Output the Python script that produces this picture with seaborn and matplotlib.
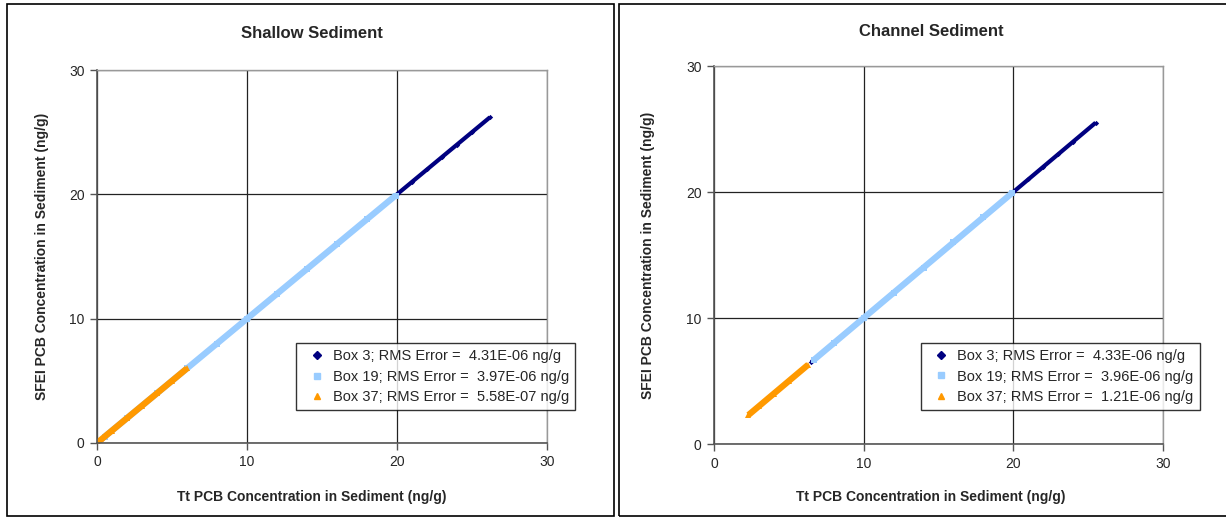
import matplotlib
matplotlib.use("Agg")
import numpy as np
import pandas as pd
import matplotlib.pyplot as plt
import seaborn as sns
from matplotlib.lines import Line2D
from matplotlib.patches import Rectangle

# Values (Tt vs SFEI concentration, ng/g)
shallow_box3_tt = [0.3, 2, 4, 6, 8, 10, 12, 14, 16, 18, 20, 21, 22, 23, 24, 25, 26.2]
shallow_box3_sfei = [0.3, 2, 4, 6, 8, 10, 12, 14, 16, 18, 20, 21, 22, 23, 24, 25, 26.2]
shallow_box19_tt = [0.5, 2, 4, 6, 8, 10, 12, 14, 16, 18, 19.9]
shallow_box19_sfei = [0.5, 2, 4, 6, 8, 10, 12, 14, 16, 18, 19.9]
shallow_box37_tt = [0.05, 1, 2, 3, 4, 5, 6.0]
shallow_box37_sfei = [0.05, 1, 2, 3, 4, 5, 6.0]

channel_box3_tt = [6.5, 8, 10, 12, 14, 16, 18, 20, 21, 22, 23, 24, 25.5]
channel_box3_sfei = [6.5, 8, 10, 12, 14, 16, 18, 20, 21, 22, 23, 24, 25.5]
channel_box19_tt = [6.7, 8, 10, 12, 14, 16, 18, 19.9]
channel_box19_sfei = [6.7, 8, 10, 12, 14, 16, 18, 19.9]
channel_box37_tt = [2.3, 3, 4, 5, 6.3]
channel_box37_sfei = [2.3, 3, 4, 5, 6.3]

shallow_labels = ["Box 3; RMS Error =  4.31E-06 ng/g",
                  "Box 19; RMS Error =  3.97E-06 ng/g",
                  "Box 37; RMS Error =  5.58E-07 ng/g"]
channel_labels = ["Box 3; RMS Error =  4.33E-06 ng/g",
                  "Box 19; RMS Error =  3.96E-06 ng/g",
                  "Box 37; RMS Error =  1.21E-06 ng/g"]

colors = ["#000080", "#99CCFF", "#FF9900"]
markers = ["D", "s", "^"]
widths = [3.0, 4.5, 4.5]

sns.set_style("white")
plt.rcParams['font.family'] = ['Liberation Sans', 'DejaVu Sans']

W, H = 1226, 517
fig = plt.figure(figsize=(W / 100, H / 100), dpi=100)

# panel frames
fig.patches.append(Rectangle((7 / W, 1 / H), 607 / W, 512 / H, transform=fig.transFigure,
                             fill=False, edgecolor="black", linewidth=1.2))
fig.patches.append(Rectangle((619 / W, 1 / H), 620 / W, 512 / H, transform=fig.transFigure,
                             fill=False, edgecolor="black", linewidth=1.2, clip_on=False))

ax1 = fig.add_axes([97 / W, 1 - 443 / H, 450 / W, 373 / H])
ax2 = fig.add_axes([714 / W, 1 - 444 / H, 449 / W, 378 / H])


def draw_panel(ax, series, title, labels, legend_box, cx, title_y, ylab_x):
    for i, (tt, sfei) in enumerate(series):
        df = pd.DataFrame({"tt": tt, "sfei": sfei})
        sns.lineplot(data=df, x="tt", y="sfei", ax=ax, color=colors[i], linewidth=widths[i],
                     marker=markers[i], markersize=widths[i] * 0.9, markeredgewidth=0,
                     sort=False, legend=False, solid_capstyle="butt")
    ax.set_xlim(0, 30)
    ax.set_ylim(0, 30)
    ax.set_xticks([0, 10, 20, 30])
    ax.set_yticks([0, 10, 20, 30])
    ax.grid(True, color="#222222", linewidth=0.9)
    ax.set_axisbelow(True)
    for s in ["left", "bottom"]:
        ax.spines[s].set_color("#555555")
        ax.spines[s].set_linewidth(1.2)
    for s in ["top", "right"]:
        ax.spines[s].set_color("#999999")
        ax.spines[s].set_linewidth(1.0)
    ax.tick_params(axis="both", direction="out", length=5, width=1, color="#555555",
                   labelsize=10, pad=4, left=True, bottom=True)
    ax.set_xlabel("")
    ax.set_ylabel("")
    # titles and axis labels are centred on the panel, not the plot area
    fig.text(cx / W, 1 - title_y / H, title, fontsize=12, fontweight="bold",
             ha="center", va="center")
    fig.text(cx / W, 1 - 497 / H, "Tt PCB Concentration in Sediment (ng/g)", fontsize=10,
             fontweight="bold", ha="center", va="center")
    pos = ax.get_position()
    fig.text(ylab_x / W, (pos.y0 + pos.y1) / 2, "SFEI PCB Concentration in Sediment (ng/g)",
             fontsize=10, fontweight="bold", rotation=90, ha="center", va="center")
    handles = [Line2D([], [], linestyle="none", marker=markers[i], color=colors[i], markersize=4)
               for i in range(3)]
    leg = ax.legend(handles, labels, loc="lower left", bbox_to_anchor=legend_box,
                    fontsize=10.5, frameon=True, fancybox=False, handlelength=2.0,
                    handletextpad=0.1, borderpad=0.4, labelspacing=0.45, borderaxespad=0)
    leg.get_frame().set_edgecolor("black")
    leg.get_frame().set_linewidth(1.0)


draw_panel(ax1, [(shallow_box3_tt, shallow_box3_sfei), (shallow_box19_tt, shallow_box19_sfei),
                 (shallow_box37_tt, shallow_box37_sfei)],
           "Shallow Sediment", shallow_labels, (0.443, 0.088), 312, 33, 42)
draw_panel(ax2, [(channel_box3_tt, channel_box3_sfei), (channel_box19_tt, channel_box19_sfei),
                 (channel_box37_tt, channel_box37_sfei)],
           "Channel Sediment", channel_labels, (0.461, 0.09), 931, 32, 648)

fig.savefig("out.png", dpi=100)
